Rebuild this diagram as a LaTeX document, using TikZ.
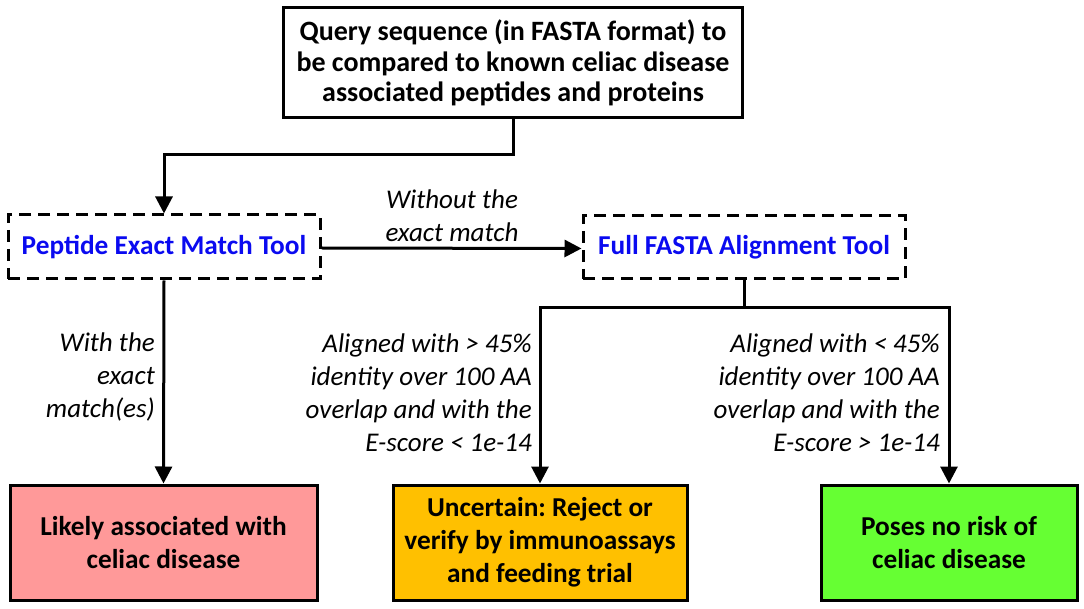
\documentclass[tikz,border=0pt]{standalone}
\usepackage{fontspec}
\setmainfont{Carlito}
\usetikzlibrary{arrows.meta}
\frenchspacing
\definecolor{bluetxt}{HTML}{0A0AF0}
\definecolor{pinkfill}{HTML}{FF9999}
\definecolor{orangefill}{HTML}{FFC000}
\definecolor{greenfill}{HTML}{66FF33}
\tikzset{
  conn/.style={line width=3pt},
  arr/.style={conn,-{Triangle[width=17pt,length=17pt]}},
  solidbox/.style={draw,line width=3pt,align=center,inner sep=0pt,font=\bfseries\frenchspacing\fontsize{28}{30.5}\selectfont},
  resbox/.style={draw,line width=3pt,align=center,inner sep=0pt,font=\bfseries\frenchspacing\fontsize{27.3}{33}\selectfont},
  toolbox/.style={draw,line width=3pt,dash pattern=on 12pt off 7pt,inner sep=0pt,text=bluetxt,font=\bfseries\fontsize{27.3}{30}\selectfont},
  lbl/.style={inner sep=0pt,font=\itshape\fontsize{27}{33}\selectfont}
}
\begin{document}
\begin{tikzpicture}[x=1pt,y=-1pt]
\useasboundingbox (0,0) rectangle (1084,609);
\node[solidbox,minimum width=459pt,minimum height=110pt] (top) at (513,63)
  {Query sequence (in FASTA format) to\\be compared to known celiac disease\\associated peptides and proteins};
\node[toolbox,minimum width=312pt,minimum height=64pt] (pep) at (164,247) {Peptide Exact Match Tool};
\node[toolbox,minimum width=322pt,minimum height=63pt] (fasta) at (744,247.5) {Full FASTA Alignment Tool};
\node[resbox,fill=pinkfill,minimum width=307pt,minimum height=115pt] (likely) at (163.5,542.5)
  {Likely associated with\\celiac disease};
\node[resbox,fill=orangefill,minimum width=294pt,minimum height=115pt] (unc) at (540,542.5)
  {Uncertain: Reject or\\verify by immunoassays\\and feeding trial};
\node[resbox,fill=greenfill,minimum width=256pt,minimum height=115pt] (pose) at (949,542.5)
  {Poses no risk of\\celiac disease};
\draw[arr] (top.south) -- ++(0,35) -| (pep.north);
\draw[arr] ([yshift=-1pt]pep.east) -- ([yshift=-1pt]fasta.west);
\draw[arr] (pep.south) -- (likely.north);
\draw[conn] (fasta.south) -- ++(0,27) coordinate (j);
\draw[arr] (j) -| (unc.north);
\draw[arr] (j) -| (pose.north);
\node[lbl,align=center] (l1) at (452,216) {Without the\\exact match};
\node[lbl,align=right,anchor=east] (l2) at (155,377) {With the\\exact\\match(es)};
\node[lbl,align=right,anchor=east] (l3) at (532,393) {Aligned with > 45\%\\identity over 100 AA\\overlap and with the\\E-score < 1e-14};
\node[lbl,align=right,anchor=east] (l4) at (940,393) {Aligned with < 45\%\\identity over 100 AA\\overlap and with the\\E-score > 1e-14};
\end{tikzpicture}
\end{document}
